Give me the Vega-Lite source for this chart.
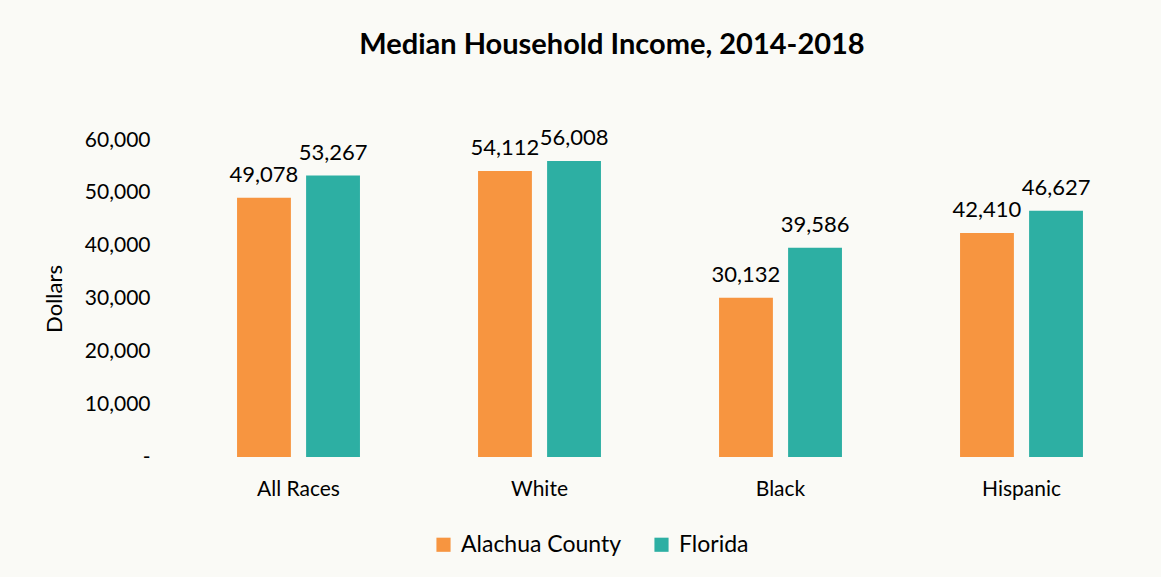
{
  "$schema": "https://vega.github.io/schema/vega-lite/v6.json",
  "autosize": "none",
  "width": 964,
  "height": 317,
  "padding": {"left": 178, "top": 140, "right": 19, "bottom": 120},
  "background": "#FAFAF6",
  "config": {
    "view": {"stroke": null},
    "font": "Lato",
    "text": {"font": "Lato"}
  },
  "title": {
    "text": "Median Household Income, 2014-2018",
    "font": "Lato",
    "fontSize": 29,
    "fontWeight": "bold",
    "color": "#000000",
    "anchor": "middle",
    "dx": -48,
    "offset": 67
  },
  "data": {
    "values": [
      {"race": "All Races", "geo": "Alachua County", "income": 49078},
      {"race": "All Races", "geo": "Florida", "income": 53267},
      {"race": "White", "geo": "Alachua County", "income": 54112},
      {"race": "White", "geo": "Florida", "income": 56008},
      {"race": "Black", "geo": "Alachua County", "income": 30132},
      {"race": "Black", "geo": "Florida", "income": 39586},
      {"race": "Hispanic", "geo": "Alachua County", "income": 42410},
      {"race": "Hispanic", "geo": "Florida", "income": 46627}
    ]
  },
  "encoding": {
    "x": {
      "field": "race",
      "type": "nominal",
      "sort": ["All Races", "White", "Black", "Hispanic"],
      "scale": {"paddingInner": 0.49, "paddingOuter": 0.245},
      "axis": {
        "title": null,
        "labelAngle": 0,
        "labelFont": "Lato",
        "labelFontSize": 21,
        "labelColor": "#000000",
        "labelPadding": 21,
        "ticks": false,
        "domain": false
      }
    },
    "xOffset": {
      "field": "geo",
      "type": "nominal",
      "scale": {"paddingInner": 0.22, "paddingOuter": 0}
    },
    "y": {
      "field": "income",
      "type": "quantitative",
      "scale": {"domain": [0, 60000]},
      "axis": {
        "title": "Dollars",
        "titleFont": "Lato",
        "titleFontSize": 22,
        "titleFontWeight": "normal",
        "titleColor": "#000000",
        "titlePadding": 18,
        "values": [0, 10000, 20000, 30000, 40000, 50000, 60000],
        "labelExpr": "datum.value == 0 ? '-\u00a0\u00a0\u00a0' : format(datum.value, ',')",
        "labelFont": "Lato",
        "labelFontSize": 21,
        "labelColor": "#000000",
        "labelPadding": 28,
        "ticks": false,
        "domain": false,
        "grid": false
      }
    },
    "color": {
      "field": "geo",
      "type": "nominal",
      "scale": {"domain": ["Alachua County", "Florida"], "range": ["#F79540", "#2DAFA3"]},
      "legend": {
        "title": null,
        "orient": "none",
        "direction": "horizontal",
        "legendX": 254,
        "legendY": 393,
        "symbolType": "square",
        "symbolSize": 200,
        "symbolStrokeWidth": 0,
        "symbolOpacity": 1,
        "labelFont": "Lato",
        "labelFontSize": 23,
        "labelLimit": 400,
        "labelColor": "#000000",
        "columnPadding": 28,
        "labelOffset": 6
      }
    }
  },
  "layer": [
    {"mark": {"type": "bar"}},
    {
      "mark": {"type": "text", "baseline": "bottom", "dy": -11, "fontSize": 22, "font": "Lato", "color": "#000000"},
      "encoding": {
        "text": {"field": "income", "type": "quantitative", "format": ","},
        "color": {"value": "#000000"}
      }
    }
  ]
}
